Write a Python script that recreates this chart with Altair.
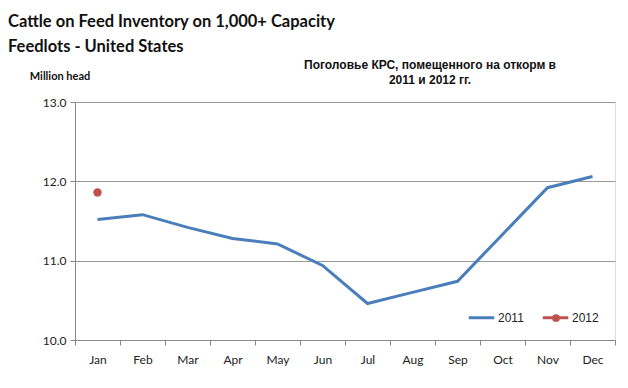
import altair as alt
import pandas as pd

months = ["Jan", "Feb", "Mar", "Apr", "May", "Jun", "Jul", "Aug", "Sep", "Oct", "Nov", "Dec"]
values_2011 = [11.52, 11.58, 11.42, 11.28, 11.21, 10.94, 10.46, 10.60, 10.74, 11.33, 11.92, 12.06]
months_2012 = ["Jan"]
values_2012 = [11.86]

title_lines = ["Cattle on Feed Inventory on 1,000+ Capacity", "Feedlots - United States"]
subtitle_lines = ["Поголовье КРС, помещенного на откорм в", "2011 и 2012 гг."]
y_label = "Million head"

rows = [{"month": m, "year": "2011", "value": v} for m, v in zip(months, values_2011)]
rows += [{"month": m, "year": "2012", "value": v} for m, v in zip(months_2012, values_2012)]
df = pd.DataFrame(rows)

color = alt.Color(
    "year:N",
    scale=alt.Scale(domain=["2011", "2012"], range=["#4a7ebb", "#c0504d"]),
    legend=alt.Legend(
        title=None, orient="none", legendX=392, legendY=201, direction="horizontal",
        symbolType="stroke", symbolSize=650, symbolStrokeWidth=3,
        labelFont="Liberation Sans", labelFontSize=12, labelColor="#222",
        columnPadding=12, labelOffset=2,
    ),
)
fill = alt.Fill(
    "year:N",
    scale=alt.Scale(domain=["2012"], range=["#c0504d"]),
    legend=alt.Legend(
        title=None, orient="none", legendX=475, legendY=210, direction="horizontal",
        symbolType="circle", symbolSize=60, symbolStrokeWidth=0, symbolOpacity=1,
        labelExpr="''", labelFontSize=12,
    ),
)

x = alt.X(
    "month:N", sort=months, title=None,
    scale=alt.Scale(domain=months, paddingInner=0, paddingOuter=0),
    axis=alt.Axis(labelAngle=0, tickBand="extent", domainColor="#888", tickColor="#888",
                  tickSize=5, labelPadding=9, labelFont="Lato", labelFontSize=12, labelColor="#222"),
)
y = alt.Y(
    "value:Q", title=None,
    scale=alt.Scale(domain=[10, 13], nice=False, zero=False),
    axis=alt.Axis(values=[10, 11, 12, 13], format=".1f", domainColor="#888", tickColor="#888",
                  gridColor="#999", tickSize=5, labelPadding=4, labelFont="Lato", labelFontSize=12, labelColor="#222"),
)

base = alt.Chart(df)
line = base.transform_filter(alt.datum.year == "2011").mark_line(strokeWidth=3).encode(x=x, y=y, color=color)
pts = base.transform_filter(alt.datum.year == "2012").mark_circle(size=70, opacity=1).encode(x=x, y=y, fill=fill)

def text_layer(txt, xv, yv, size, font, align="left"):
    return alt.Chart(pd.DataFrame({"t": [txt]})).mark_text(
        align=align, baseline="middle", fontSize=size, font=font, fontWeight="bold", color="#111"
    ).encode(text="t:N", x=alt.value(xv), y=alt.value(yv))

texts = [
    text_layer(title_lines[0], -67, -80, 16.5, "Lato"),
    text_layer(title_lines[1], -67, -55, 16.5, "Lato"),
    text_layer(subtitle_lines[0], 355, -37, 12, "Liberation Sans", "center"),
    text_layer(subtitle_lines[1], 355, -22, 12, "Liberation Sans", "center"),
    text_layer(y_label, -15, -25, 11, "Lato", "center"),
]

chart = alt.layer(line, pts, *texts).resolve_scale(color="independent", fill="independent").properties(
    width=540, height=238,
    autosize=alt.AutoSizeParams(type="none"),
    padding={"left": 67, "top": 94, "right": 5, "bottom": 40},
).configure_view(stroke=None).configure(background="white")

chart.save("out.html", embed_options={"renderer": "svg", "actions": False})
